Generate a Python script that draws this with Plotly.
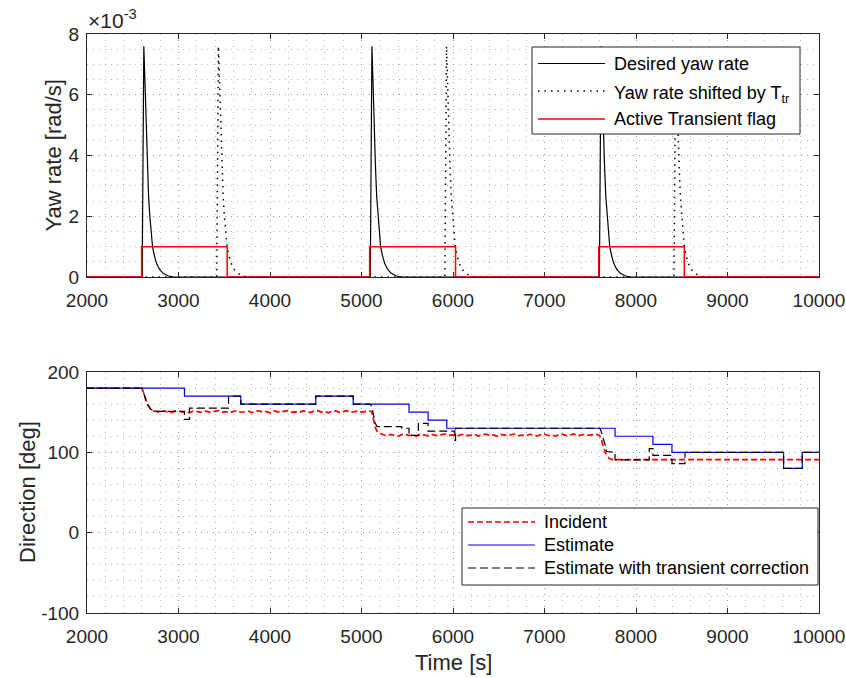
import plotly.graph_objects as go

# ---------------- top panel: yaw rate ----------------
# shape of one yaw-rate pulse, time after onset [s] and rate [rad/s]
pulse_offsets_s = [0, 18, 29, 40, 55, 70, 84, 95, 113, 135, 157, 190, 229, 280, 338]
pulse_yaw_rate = [0.0, 0.0076, 0.0065, 0.0051, 0.00376, 0.00265, 0.0020, 0.00155,
                  0.0010, 0.00068, 0.00045, 0.00025, 0.00012, 0.00004, 0.0]
pulse_onsets_s = [2603, 5096, 7600]
t_transient_s = 815

# transient flag windows (flag drawn at 1e-3)
flag_on_s = [2597, 5089, 7593]
flag_off_s = [3532, 6028, 8528]
flag_level = 0.001

# ---------------- bottom panel: direction ----------------
incident_drop1_t = [2000, 2601, 2625, 2654, 2691, 2727]
incident_drop1_v = [180, 180, 172, 161, 154.4, 151.3]
incident_plateau1_start = 2760
incident_plateau1_v = [
    150.9, 149.6, 151.5, 150.7, 149.3, 151.2, 151.8, 150.0, 150.6, 149.2,
    151.4, 150.8, 149.7, 151.7, 150.4, 149.5, 151.3, 151.9, 150.1, 150.6,
    149.1, 151.0, 151.6, 149.9, 150.5, 151.4, 149.4, 151.1, 151.7, 150.2,
    150.7, 149.3, 151.5, 150.9, 149.8, 151.3, 152.0, 150.0, 150.4, 149.6,
    151.6, 150.8, 149.5, 151.2, 151.8, 150.1, 150.6, 149.2, 151.3, 151.5,
    149.9, 150.7, 151.9, 149.7, 151.0, 151.4, 150.2, 150.8, 151.6,
]
incident_drop2_t = [5113, 5131, 5149, 5168, 5204]
incident_drop2_v = [150.5, 142, 131.5, 126.6, 123.5]
incident_plateau2_start = 5240
incident_plateau2_v = [
    121.8, 120.5, 122.4, 121.3, 120.1, 122.0, 122.6, 120.9, 121.5, 120.2,
    122.3, 121.7, 120.6, 122.5, 121.3, 120.4, 122.2, 122.7, 121.0, 121.6,
    120.0, 121.9, 122.5, 120.8, 121.4, 122.3, 120.3, 122.0, 122.6, 121.1,
    121.6, 120.2, 122.4, 121.8, 120.7, 122.2, 122.8, 120.9, 121.3, 120.5,
    122.5, 121.7, 120.4, 122.1, 122.7, 121.0, 121.5, 120.1, 122.2, 122.4,
    120.8, 121.6, 122.8, 120.6, 121.9, 122.3, 121.1, 121.7, 122.5, 121.4,
]
incident_drop3_t = [7625, 7643, 7672, 7708, 7752, 10000]
incident_drop3_v = [115, 106.6, 98.4, 92.2, 90.8, 90.8]
incident_step_s = 40

# direction estimate: value held from each switch time on
estimate_t = [2000, 3065, 3681, 4500, 4910, 5519, 5728, 5932, 7771, 8185, 8393, 9613, 9817, 10000]
estimate_v = [180, 170, 160, 170, 160, 150, 140, 130, 120, 110, 100, 80, 100, 100]

# estimate with transient correction
corrected_t = [2000, 2600, 2625, 2654, 2691, 2727, 2760, 3065, 3065, 3120, 3120, 3547, 3547,
               3681, 3681, 4500, 4500, 4910, 4910, 5094, 5113, 5131, 5150, 5170, 5440, 5440,
               5519, 5519, 5622, 5622, 5728, 5728, 6020, 6020, 6028, 6028, 7600, 7614, 7640,
               7661, 7680, 7771, 7771, 8145, 8145, 8185, 8185, 8393, 8393, 8535, 8535, 9613,
               9613, 9817, 9817, 10000]
corrected_v = [180, 180, 172, 161, 154.4, 151.3, 151, 151, 141, 141, 155, 155, 170,
               170, 160, 160, 170, 170, 160, 160, 157, 146, 136, 132, 132, 130,
               130, 121, 121, 136, 136, 126.5, 126.5, 115, 115, 130, 130, 128, 119,
               110, 101, 100, 90.5, 90.5, 104.6, 104.6, 96.3, 96.3, 86, 86, 100, 100,
               80, 80, 100, 100]

# axis tick labels
time_ticks = [2000, 3000, 4000, 5000, 6000, 7000, 8000, 9000, 10000]
yaw_ticks = [0, 0.002, 0.004, 0.006, 0.008]
yaw_tick_text = ["0", "2", "4", "6", "8"]
dir_ticks = [-100, 0, 100, 200]
dir_tick_text = ["-100", "0", "100", "200"]

# ---------------- build series ----------------
def pulse_train(onsets):
    xs, ys = [2000], [0.0]
    for t0 in onsets:
        xs += [t0 + d for d in pulse_offsets_s]
        ys += list(pulse_yaw_rate)
    xs.append(10000)
    ys.append(0.0)
    return xs, ys

desired_x, desired_y = pulse_train(pulse_onsets_s)
shifted_x, shifted_y = pulse_train([t + t_transient_s for t in pulse_onsets_s])

flag_x, flag_y = [2000], [0.0]
for on, off in zip(flag_on_s, flag_off_s):
    flag_x += [on, on, off, off]
    flag_y += [0.0, flag_level, flag_level, 0.0]
flag_x.append(10000)
flag_y.append(0.0)

incident_t = list(incident_drop1_t)
incident_v = list(incident_drop1_v)
incident_t += [incident_plateau1_start + i * incident_step_s for i in range(len(incident_plateau1_v))]
incident_v += incident_plateau1_v
incident_t += incident_drop2_t
incident_v += incident_drop2_v
incident_t += [incident_plateau2_start + i * incident_step_s for i in range(len(incident_plateau2_v))]
incident_v += incident_plateau2_v
incident_t += incident_drop3_t
incident_v += incident_drop3_v

# ---------------- figure ----------------
W, H = 846, 678
ML, MR, MT, MB = 87, 27, 34, 65
PW, PH = W - ML - MR, H - MT - MB


def px(x):
    return (x - ML) / PW


def py(y):
    return (H - MB - y) / PH


AX = "#262626"
GRID = "rgba(120,120,120,0.5)"
GDASH = "1.3px,4.7px"
FONT = "Liberation Sans, Arial, Helvetica, sans-serif"

fig = go.Figure()
fig.add_trace(go.Scatter(x=desired_x, y=desired_y, mode="lines", xaxis="x", yaxis="y",
                         line=dict(color="black", width=1.2), showlegend=False))
fig.add_trace(go.Scatter(x=shifted_x, y=shifted_y, mode="lines", xaxis="x", yaxis="y",
                         line=dict(color="black", width=1.5, dash="1.5px,5px"), showlegend=False))
fig.add_trace(go.Scatter(x=flag_x, y=flag_y, mode="lines", xaxis="x", yaxis="y",
                         line=dict(color="red", width=1.5), showlegend=False))

fig.add_trace(go.Scatter(x=incident_t, y=incident_v, mode="lines", xaxis="x2", yaxis="y2",
                         line=dict(color="red", width=1.7, dash="6px,3px"), showlegend=False))
fig.add_trace(go.Scatter(x=estimate_t, y=estimate_v, mode="lines", line_shape="hv",
                         xaxis="x2", yaxis="y2",
                         line=dict(color="blue", width=1.2), showlegend=False))
fig.add_trace(go.Scatter(x=corrected_t, y=corrected_v, mode="lines", xaxis="x2", yaxis="y2",
                         line=dict(color="black", width=1.2, dash="8px,4px"), showlegend=False))

common_axis = dict(showline=True, linecolor=AX, linewidth=1, mirror="ticks",
                   ticks="inside", ticklen=5, tickcolor=AX, tickwidth=1,
                   showgrid=True, gridcolor=GRID, griddash=GDASH, gridwidth=1,
                   zeroline=False, automargin=False,
                   tickfont=dict(family=FONT, size=19, color=AX))

xticks = dict(range=[2000, 10000], tickmode="array", tickvals=time_ticks,
              ticktext=[str(t) for t in time_ticks], ticklabelstandoff=6,
              minor=dict(tickmode="array", tickvals=list(range(2000, 10001, 200)),
                         showgrid=True, gridcolor=GRID, griddash=GDASH, gridwidth=1, ticks=""))

fig.update_layout(
    width=W, height=H, autosize=False,
    margin=dict(l=ML, r=MR, t=MT, b=MB, autoexpand=False),
    paper_bgcolor="white", plot_bgcolor="white",
    font=dict(family=FONT, color=AX),
    xaxis=dict(domain=[0, 1], anchor="y", **xticks, **common_axis),
    yaxis=dict(domain=[py(277), 1], anchor="x", range=[0, 0.008],
               tickmode="array", tickvals=yaw_ticks, ticktext=yaw_tick_text,
               minor=dict(tickmode="array", tickvals=[i * 0.0005 for i in range(17)],
                          showgrid=True, gridcolor=GRID, griddash=GDASH, gridwidth=1, ticks=""),
               ticklabelstandoff=3, **common_axis),
    xaxis2=dict(domain=[0, 1], anchor="y2", **xticks, **common_axis),
    yaxis2=dict(domain=[0, py(372)], anchor="x2", range=[-100, 200],
                tickmode="array", tickvals=dir_ticks, ticktext=dir_tick_text,
                minor=dict(tickmode="array", tickvals=list(range(-100, 201, 20)),
                           showgrid=True, gridcolor=GRID, griddash=GDASH, gridwidth=1, ticks=""),
                ticklabelstandoff=3, **common_axis),
)

annotations = [
    dict(text="Yaw rate [rad/s]", x=px(53), y=py(155.5), textangle=-90,
         font=dict(size=22, color=AX)),
    dict(text="Direction [deg]", x=px(27), y=py(492), textangle=-90,
         font=dict(size=22, color=AX)),
    dict(text="Time [s]", x=px(453), y=py(662), font=dict(size=22, color=AX)),
    dict(text="×10<sup>-3</sup>", x=px(86), y=py(19), xanchor="left",
         font=dict(size=21, color=AX)),
]

shapes = []


def add_legend(box, rows, sample_x, text_x):
    x0, y0, x1, y1 = box
    shapes.append(dict(type="rect", xref="paper", yref="paper", layer="above",
                       x0=px(x0), x1=px(x1), y0=py(y0), y1=py(y1),
                       fillcolor="white", line=dict(color=AX, width=1)))
    for label, y, color, dash, width, dy in rows:
        shapes.append(dict(type="line", xref="paper", yref="paper", layer="above",
                           x0=px(sample_x[0]), x1=px(sample_x[1]), y0=py(y), y1=py(y),
                           line=dict(color=color, width=width, dash=dash)))
        annotations.append(dict(text=label, x=px(text_x), y=py(y + dy), xanchor="left",
                                font=dict(size=18, color="black")))


add_legend((532, 47, 800, 134),
           [("Desired yaw rate", 63.5, "black", "solid", 1.2, 0),
            ("Yaw rate shifted by T<sub>tr</sub>", 91, "black", "1.5px,5px", 1.5, 3),
            ("Active Transient flag", 119, "red", "solid", 1.5, 0)],
           (538, 605), 612)

add_legend((462, 508, 818, 585),
           [("Incident", 522, "red", "6px,3px", 1.7, 0),
            ("Estimate", 545, "blue", "solid", 1.2, 0),
            ("Estimate with transient correction", 568, "black", "8px,4px", 1.2, 0)],
           (468, 535), 542)

for a in annotations:
    a.setdefault("xref", "paper")
    a.setdefault("yref", "paper")
    a.setdefault("showarrow", False)
    a.setdefault("xanchor", "center")
    a.setdefault("yanchor", "middle")
    a["font"]["family"] = FONT

fig.update_layout(annotations=annotations, shapes=shapes)
fig.write_html("out.html")
